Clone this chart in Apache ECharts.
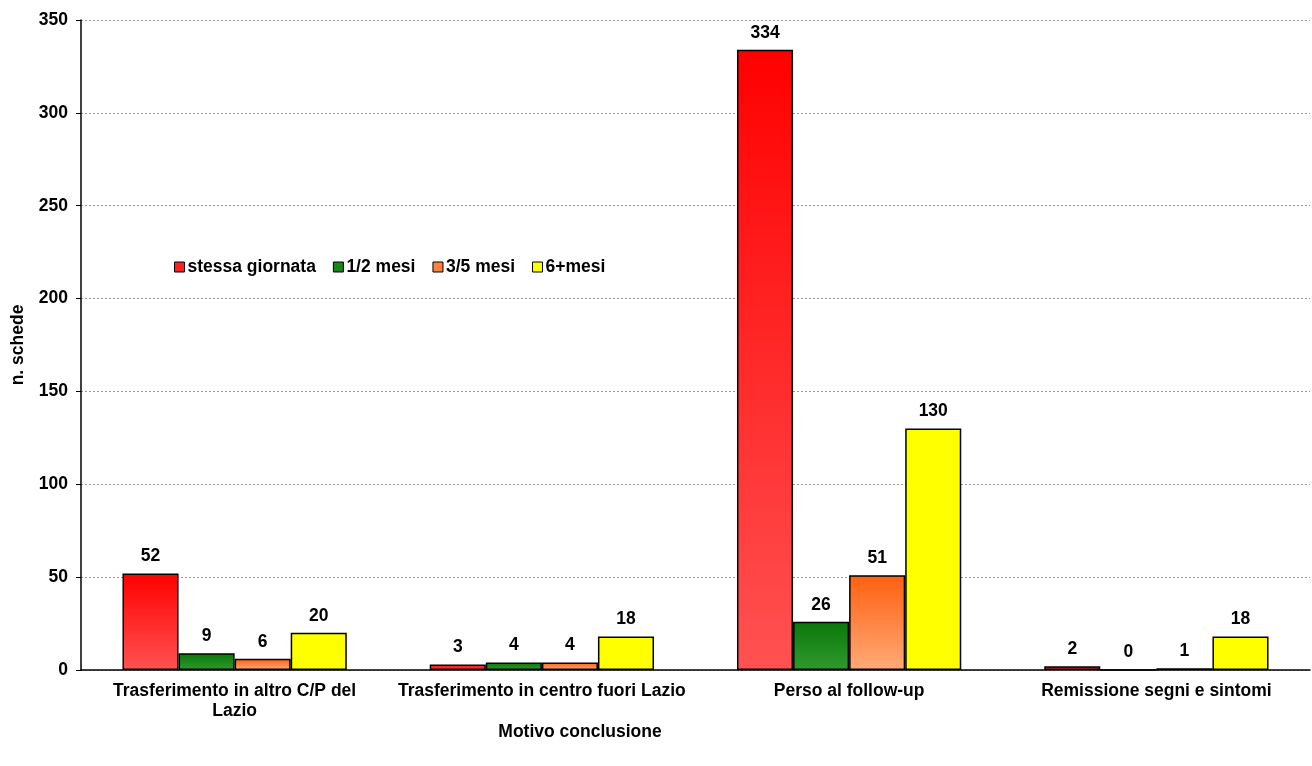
<!DOCTYPE html>
<html>
<head>
<meta charset="utf-8">
<script src="https://cdn.jsdelivr.net/npm/echarts@6/dist/echarts.min.js"></script>
<style>
  html, body { margin: 0; padding: 0; background: #fff; }
  #chart { width: 1312px; height: 766px; }
</style>
</head>
<body>
<div id="chart"></div>
<script>
// dati
const categories = ['Trasferimento in altro C/P del\nLazio', 'Trasferimento in centro fuori Lazio', 'Perso al follow-up', 'Remissione segni e sintomi'];
const seriesNames = ['stessa giornata', '1/2 mesi', '3/5 mesi', '6+mesi'];
const stessaGiornata = [52, 3, 334, 2];
const unoDueMesi = [9, 4, 26, 0];
const treCinqueMesi = [6, 4, 51, 1];
const seiPiuMesi = [20, 18, 130, 18];

const font = 'Liberation Sans, Arial, sans-serif';
const fs = 17.5;

const grad = (top, bottom) => new echarts.graphic.LinearGradient(0, 0, 0, 1, [
  { offset: 0, color: top },
  { offset: 1, color: bottom }
]);

const fills = [
  grad('#ff0000', '#ff5252'),
  grad('#0a780a', '#30992e'),
  grad('#ff6010', '#ffaa78'),
  '#ffff00'
];
const legendColors = ['#ff2020', '#1a851a', '#ff8040', '#ffff00'];

const makeSeries = (name, data, i) => ({
  name: name,
  type: 'bar',
  data: data,
  barGap: '0%',
  barCategoryGap: '27%',
  itemStyle: { color: fills[i], borderColor: '#000', borderWidth: 1.5 },
  label: {
    show: true,
    position: 'top',
    distance: 8,
    color: '#000',
    fontWeight: 'bold',
    fontSize: fs,
    fontFamily: font
  }
});

const chart = echarts.init(document.getElementById('chart'));
chart.setOption({
  animation: false,
  grid: { left: 81, right: 2, top: 20, bottom: 96, outerBoundsMode: 'none' },
  title: {
    text: 'Motivo conclusione',
    left: 575,
    top: 718,
    textAlign: 'center',
    textStyle: { fontSize: fs, fontWeight: 'bold', color: '#000', fontFamily: font }
  },
  legend: {
    left: 169,
    top: 253,
    itemWidth: 10,
    itemHeight: 10,
    itemGap: 17,
    icon: 'rect',
    data: seriesNames.map((n, i) => ({
      name: n,
      itemStyle: { color: legendColors[i], borderColor: '#000', borderWidth: 1 }
    })),
    textStyle: { fontSize: fs, fontWeight: 'bold', color: '#000', fontFamily: font, padding: [0, 0, 0, -2] }
  },
  xAxis: {
    type: 'category',
    data: categories,
    axisLine: { lineStyle: { color: '#000', width: 1.5 } },
    axisTick: { show: false },
    axisLabel: {
      interval: 0,
      color: '#000',
      fontWeight: 'bold',
      fontSize: fs,
      fontFamily: font,
      margin: 11,
      lineHeight: 20
    }
  },
  yAxis: {
    type: 'value',
    min: 0,
    max: 350,
    interval: 50,
    name: 'n. schede',
    nameLocation: 'middle',
    nameGap: 54,
    nameRotate: 90,
    nameTextStyle: { fontSize: fs, fontWeight: 'bold', color: '#000', fontFamily: font },
    axisLine: { show: true, lineStyle: { color: '#000', width: 1.5 } },
    axisTick: { show: true, length: 5, lineStyle: { color: '#000' } },
    axisLabel: {
      color: '#000',
      fontWeight: 'bold',
      fontSize: fs,
      fontFamily: font,
      margin: 13
    },
    splitLine: { lineStyle: { color: '#999', type: [2, 2], width: 1 } }
  },
  series: [
    makeSeries(seriesNames[0], stessaGiornata, 0),
    makeSeries(seriesNames[1], unoDueMesi, 1),
    makeSeries(seriesNames[2], treCinqueMesi, 2),
    makeSeries(seriesNames[3], seiPiuMesi, 3)
  ]
});
</script>
</body>
</html>
